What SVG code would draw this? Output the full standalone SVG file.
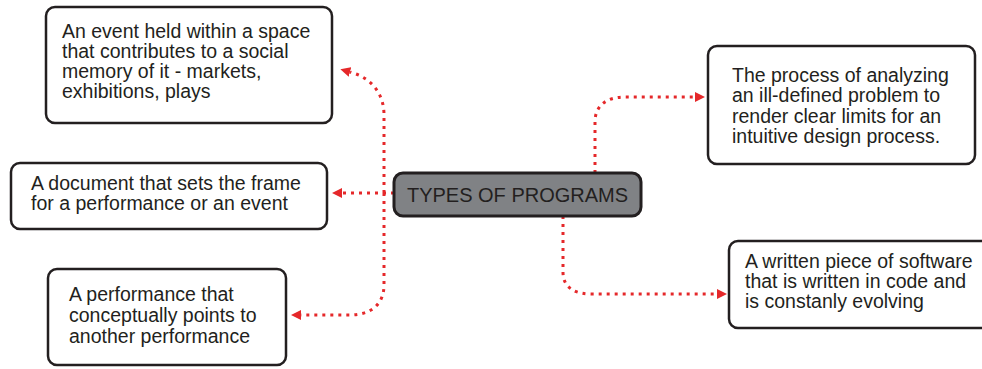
<svg xmlns="http://www.w3.org/2000/svg" width="982" height="369" viewBox="0 0 982 369">
  <style>
    .box { fill: #ffffff; stroke: #231f20; stroke-width: 2.5; }
    .hub { fill: #808285; stroke: #231f20; stroke-width: 3; }
    .txt { font-family: "Liberation Sans", Arial, sans-serif; font-size: 19.5px; fill: #231f20; }
    .title { font-family: "Liberation Sans", Arial, sans-serif; font-size: 20px; fill: #231f20; text-anchor: middle; }
    .link { fill: none; stroke: #e5282a; stroke-width: 3; stroke-dasharray: 3 5; }
  </style>
  <defs>
    <marker id="arrow" viewBox="0 0 10 10" refX="0" refY="5" markerWidth="10" markerHeight="10" markerUnits="userSpaceOnUse" orient="auto">
      <path d="M0,0 L10,5 L0,10 z" fill="#e5282a"/>
    </marker>
  </defs>
  <g id="connectors">
    <path class="link" d="M384 193 V115 C384 94 372 78 350 72" marker-end="url(#arrow)"/>
    <path class="link" d="M394 193 H342" marker-end="url(#arrow)"/>
    <path class="link" d="M384 193 V285 C384 305 370 315 350 315 H301" marker-end="url(#arrow)"/>
    <path class="link" d="M595 173 V122 C595 106 606 97 625 97 H695" marker-end="url(#arrow)"/>
    <path class="link" d="M563 216 V272 C563 288 575 294 592 294 H717" marker-end="url(#arrow)"/>
  </g>
  <g id="hub">
    <rect class="hub" x="394" y="173" width="247" height="43" rx="9"/>
    <text class="title" x="517.5" y="202">TYPES OF PROGRAMS</text>
  </g>
  <g id="node-event">
    <rect class="box" x="46" y="7" width="286" height="116" rx="9"/>
    <text class="txt"><tspan x="62" y="38">An event held within a space</tspan><tspan x="62" y="58">that contributes to a social</tspan><tspan x="62" y="78">memory of it - markets,</tspan><tspan x="62" y="98">exhibitions, plays</tspan></text>
  </g>
  <g id="node-document">
    <rect class="box" x="11" y="163" width="316" height="66" rx="9"/>
    <text class="txt"><tspan x="31" y="190">A document that sets the frame</tspan><tspan x="31" y="210">for a performance or an event</tspan></text>
  </g>
  <g id="node-performance">
    <rect class="box" x="48" y="269" width="238" height="96" rx="9"/>
    <text class="txt"><tspan x="69" y="301">A performance that</tspan><tspan x="69" y="322">conceptually points to</tspan><tspan x="69" y="343">another performance</tspan></text>
  </g>
  <g id="node-process">
    <rect class="box" x="708" y="46" width="267" height="118" rx="9"/>
    <text class="txt"><tspan x="732" y="82">The process of analyzing</tspan><tspan x="732" y="102">an ill-defined problem to</tspan><tspan x="732" y="123">render clear limits for an</tspan><tspan x="732" y="143">intuitive design process.</tspan></text>
  </g>
  <g id="node-software">
    <rect class="box" x="729" y="241" width="270" height="87" rx="9"/>
    <text class="txt"><tspan x="745" y="268">A written piece of software</tspan><tspan x="745" y="288">that is written in code and</tspan><tspan x="745" y="308">is constanly evolving</tspan></text>
  </g>
</svg>
